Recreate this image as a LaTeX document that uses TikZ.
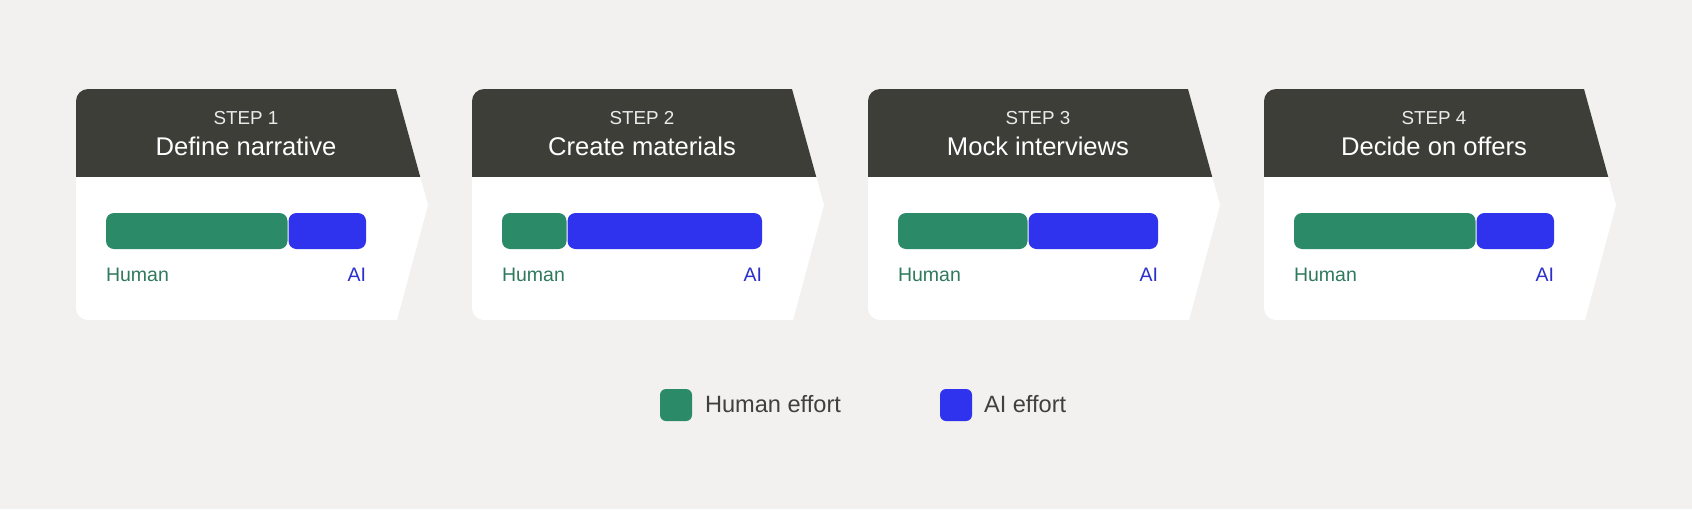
\documentclass[tikz,border=0pt]{standalone}
\usepackage{fontspec}
\setmainfont{Liberation Sans}
\definecolor{bgc}{HTML}{F2F1EF}
\definecolor{headc}{HTML}{3E3E39}
\definecolor{humanc}{HTML}{2B8A67}
\definecolor{aic}{HTML}{3033EE}
\definecolor{humantxt}{HTML}{2F7A5E}
\definecolor{aitxt}{HTML}{2B2FCB}
\definecolor{legtxt}{HTML}{404040}
\tikzset{
  txt/.style={inner sep=0pt, outer sep=0pt},
  steplabel/.style={txt, anchor=base, text=white!92!black, font=\fontsize{18.8}{20}\selectfont},
  titlelabel/.style={txt, anchor=base, text=white, font=\fontsize{25.6}{28}\selectfont},
  humanlabel/.style={txt, anchor=base west, text=humantxt, font=\fontsize{19.5}{22}\selectfont},
  ailabel/.style={txt, anchor=base east, text=aitxt, font=\fontsize{19.5}{22}\selectfont},
  legsq/.style={draw=none, minimum size=32pt, inner sep=0pt, rounded corners=6pt},
  legtext/.style={txt, anchor=base west, text=legtxt, font=\fontsize{23.6}{26}\selectfont},
  barseg/.style={rounded corners=8pt},
}
\begin{document}
\begin{tikzpicture}[x=1pt,y=-1pt]
\fill[bgc] (0,0) rectangle (1692,509);
\useasboundingbox (0,0) rectangle (1692,509);
\foreach \i/\t/\s in {0/Define narrative/182,1/Create materials/65,2/Mock interviews/130,3/Decide on offers/182}{
  \begin{scope}[shift={(76+396*\i,89)}]
    \def\cardpath{(12,0) -- (320,0) -- (352,116) -- (321,231) -- (12,231) .. controls (5.4,231) and (0,225.6) .. (0,219) -- (0,12) .. controls (0,5.4) and (5.4,0) .. (12,0) -- cycle}
    \fill[white] \cardpath;
    \begin{scope}
      \clip \cardpath;
      \fill[headc] (-1,-1) rectangle (360,88);
    \end{scope}
    \node[steplabel] (step\i) at (170,35.5) {STEP \the\numexpr\i+1\relax};
    \node[titlelabel] (title\i) at (170,66) {\t};
    \fill[humanc, barseg] (30,124) rectangle (30+\s-0.5,160);
    \fill[aic, barseg] (30+\s+0.5,124) rectangle (290,160);
    \node[humanlabel] (human\i) at (30,192.5) {Human};
    \node[ailabel] (ai\i) at (290,192.5) {AI};
  \end{scope}
}
\node[legsq, fill=humanc] (lhsq) at (676,405) {};
\node[legtext] (lhtxt) at (705,412.7) {Human effort};
\node[legsq, fill=aic] (lasq) at (956,405) {};
\node[legtext] (latxt) at (984,412.7) {AI effort};
\end{tikzpicture}
\end{document}
